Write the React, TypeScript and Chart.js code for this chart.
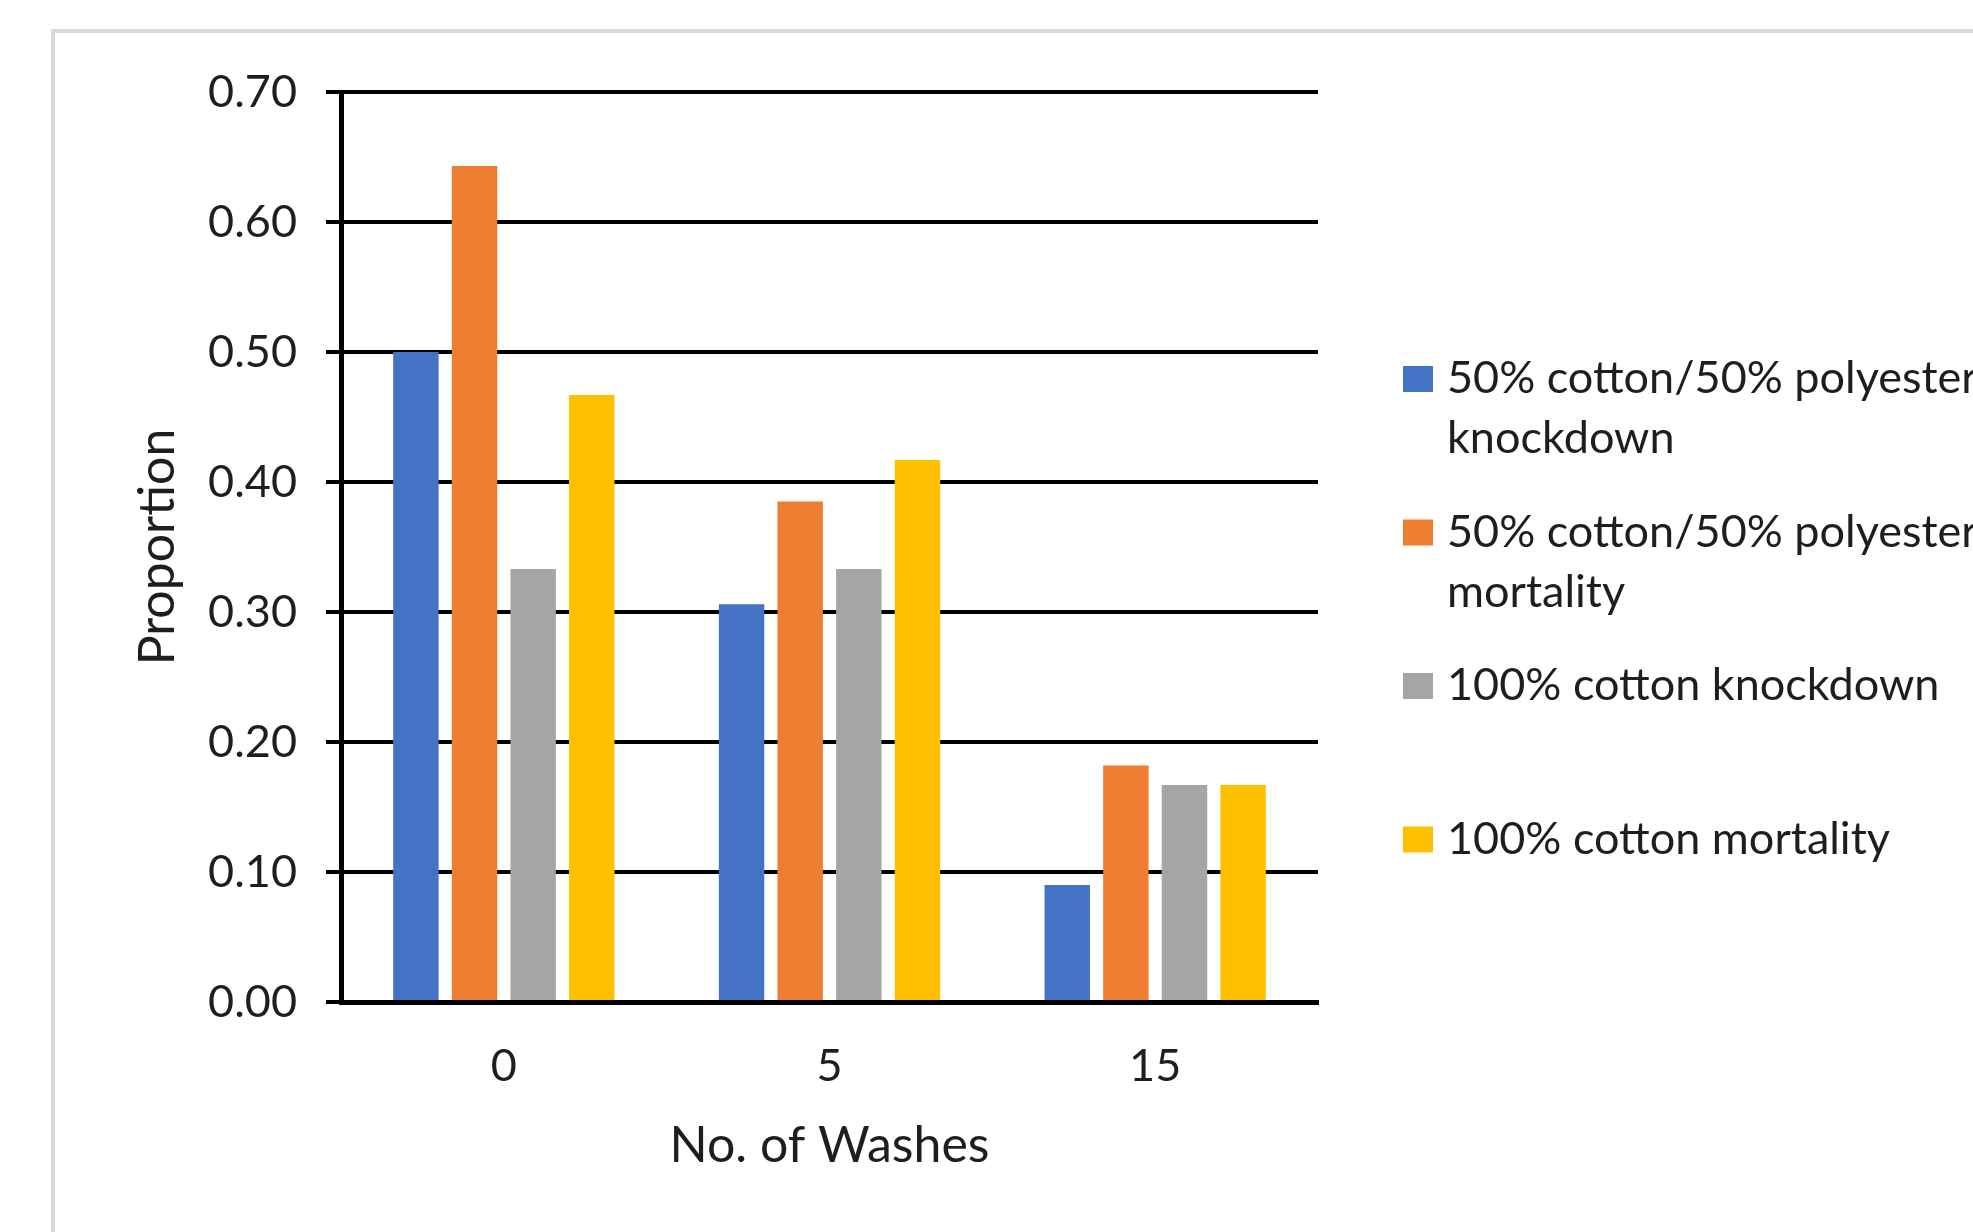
import React, { useEffect, useRef } from 'react';
import { Chart, registerables } from 'chart.js';

Chart.register(...registerables);

const categories = ['0', '5', '15'];
const seriesNames: string[][] = [
  ['50% cotton/50% polyester', 'knockdown'],
  ['50% cotton/50% polyester', 'mortality'],
  ['100% cotton knockdown'],
  ['100% cotton mortality'],
];
const blendKnockdown = [0.5, 0.306, 0.09];
const blendMortality = [0.643, 0.385, 0.182];
const cottonKnockdown = [0.333, 0.333, 0.167];
const cottonMortality = [0.467, 0.417, 0.167];
const seriesColors = ['#4472C4', '#ED7D31', '#A5A5A5', '#FFC000'];
const yMin = 0;
const yMax = 0.7;
const yStep = 0.1;
const xTitle = 'No. of Washes';
const yTitle = 'Proportion';

const FONT = 'Lato';
const TEXT = '#1e1e1e';

const framePlugin = {
  id: 'frame',
  beforeDraw(chart: any) {
    const ctx = chart.ctx;
    ctx.save();
    ctx.strokeStyle = '#d9d9d9';
    ctx.lineWidth = 4;
    ctx.beginPath();
    ctx.moveTo(53, chart.height + 10);
    ctx.lineTo(53, 31);
    ctx.lineTo(chart.width + 10, 31);
    ctx.stroke();
    ctx.restore();
  },
};

const legendPlugin = {
  id: 'sideLegend',
  afterDraw(chart: any) {
    const ctx = chart.ctx;
    ctx.save();
    ctx.font = `45px ${FONT}`;
    ctx.textBaseline = 'alphabetic';
    ctx.textAlign = 'left';
    chart.data.datasets.forEach((ds: any, i: number) => {
      const baseline = 393 + i * 153.5;
      ctx.fillStyle = ds.backgroundColor;
      ctx.fillRect(1403, baseline - 27, 30, 26);
      ctx.fillStyle = TEXT;
      const lines: string[] = Array.isArray(ds.label) ? ds.label : [ds.label];
      lines.forEach((ln, j) => ctx.fillText(ln, 1447, baseline + j * 60));
    });
    ctx.restore();
  },
};

export default function App() {
  const ref = useRef<HTMLCanvasElement>(null);
  useEffect(() => {
    document.body.style.margin = '0';
    const seriesValues = [blendKnockdown, blendMortality, cottonKnockdown, cottonMortality];
    const chart = new Chart(ref.current as HTMLCanvasElement, {
      type: 'bar',
      data: {
        labels: categories,
        datasets: seriesValues.map((vals, i) => ({
          label: seriesNames[i] as any,
          data: vals,
          backgroundColor: seriesColors[i],
          borderWidth: 0,
          categoryPercentage: 0.72,
          barPercentage: 0.775,
        })),
      },
      options: {
        responsive: false,
        animation: false,
        layout: { padding: { left: 0, top: 92, right: 655, bottom: 0 } },
        plugins: {
          legend: { display: false },
          tooltip: { enabled: false },
        },
        scales: {
          x: {
            z: 1,
            grid: { display: false, drawTicks: false },
            border: { display: true, color: '#000000', width: 5 },
            ticks: { color: TEXT, font: { family: FONT, size: 45 }, padding: 37 },
            title: {
              display: true,
              text: xTitle,
              color: TEXT,
              font: { family: FONT, size: 50 },
              padding: { top: 0, bottom: 56 },
            },
            afterFit: (s: any) => { s.height = 230; },
          },
          y: {
            min: yMin,
            max: yMax,
            grid: { color: '#000000', lineWidth: 4, tickLength: 15, drawTicks: true },
            border: { display: true, color: '#000000', width: 5 },
            ticks: {
              stepSize: yStep,
              color: TEXT,
              font: { family: FONT, size: 45 },
              padding: 29,
              callback: (v: any) => Number(v).toFixed(2),
            },
            title: {
              display: true,
              text: yTitle,
              color: TEXT,
              font: { family: FONT, size: 50 },
              padding: { top: 128, bottom: 0 },
            },
            afterFit: (s: any) => { s.width = 341; },
          },
        },
      },
      plugins: [framePlugin, legendPlugin],
    });
    return () => chart.destroy();
  }, []);
  return (
    <div style={{ position: 'absolute', left: 0, top: 0, width: 1973, height: 1232 }}>
      <canvas ref={ref} width={1973} height={1232} style={{ display: 'block', width: 1973, height: 1232 }} />
    </div>
  );
}
